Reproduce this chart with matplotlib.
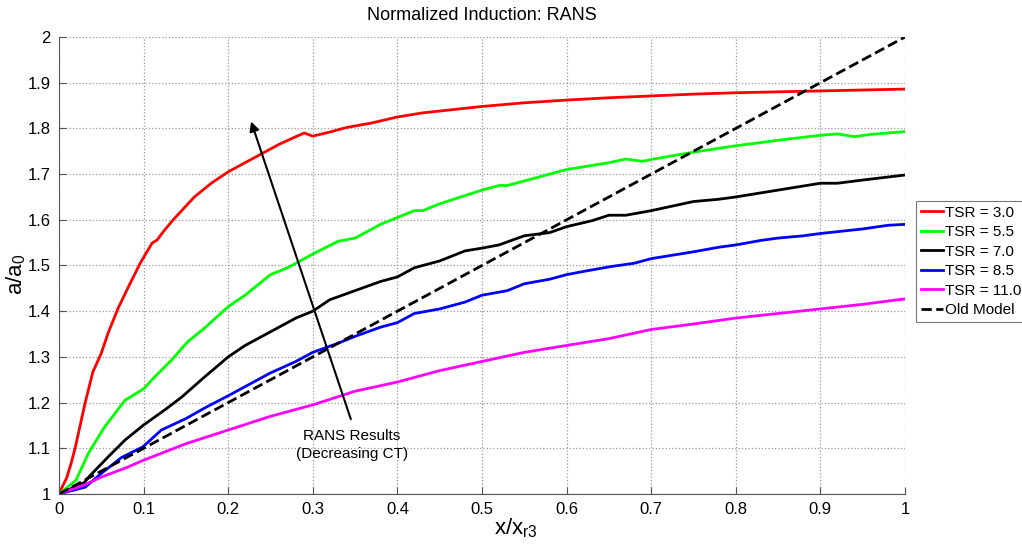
import matplotlib.pyplot as plt
import numpy as np

plt.rcParams['font.family'] = ['Liberation Sans', 'DejaVu Sans']

# TSR = 3.0
x_r = [0, 0.005, 0.009, 0.014, 0.019, 0.025, 0.031, 0.04, 0.05, 0.058, 0.07, 0.082, 0.096, 0.11,
       0.116, 0.125, 0.135, 0.15, 0.16, 0.18, 0.2, 0.22, 0.24, 0.26, 0.28, 0.29, 0.3,
       0.32, 0.34, 0.37, 0.4, 0.43, 0.46, 0.5, 0.55, 0.6, 0.65, 0.7, 0.75, 0.8, 0.85,
       0.9, 0.95, 1.0]
y_r = [1.0, 1.02, 1.035, 1.065, 1.10, 1.15, 1.20, 1.267, 1.308, 1.352, 1.407, 1.453, 1.505, 1.549,
       1.556, 1.578, 1.60, 1.63, 1.65, 1.68, 1.705, 1.725, 1.745, 1.765, 1.782, 1.79, 1.783,
       1.792, 1.802, 1.812, 1.825, 1.834, 1.840, 1.848, 1.856, 1.862, 1.867, 1.871, 1.875, 1.878, 1.880,
       1.882, 1.884, 1.886]

# TSR = 5.5
x_g = [0, 0.02, 0.035, 0.054, 0.078, 0.1, 0.113, 0.133, 0.152, 0.172, 0.2, 0.22, 0.25, 0.27, 0.3, 0.33,
       0.35, 0.38, 0.4, 0.42, 0.43, 0.45, 0.5, 0.52, 0.53, 0.55, 0.6, 0.65, 0.67, 0.69, 0.7,
       0.75, 0.8, 0.85, 0.9, 0.92, 0.94, 0.96, 1.0]
y_g = [1.0, 1.03, 1.09, 1.147, 1.205, 1.23, 1.256, 1.293, 1.333, 1.363, 1.41, 1.435, 1.48, 1.495, 1.525, 1.553,
       1.56, 1.59, 1.605, 1.62, 1.62, 1.635, 1.665, 1.675, 1.675, 1.685, 1.71, 1.725, 1.733, 1.728, 1.732,
       1.748, 1.762, 1.774, 1.785, 1.788, 1.782, 1.787, 1.793]

# TSR = 7.0
x_k = [0, 0.03, 0.035, 0.058, 0.078, 0.1, 0.125, 0.145, 0.172, 0.2, 0.22, 0.25, 0.28, 0.3, 0.32, 0.35,
       0.38, 0.4, 0.42, 0.45, 0.48, 0.5, 0.52, 0.55, 0.58, 0.6, 0.63, 0.65, 0.67, 0.7, 0.75,
       0.78, 0.8, 0.85, 0.9, 0.92, 0.95, 1.0]
y_k = [1.0, 1.025, 1.037, 1.081, 1.118, 1.151, 1.184, 1.212, 1.256, 1.30, 1.325, 1.355, 1.385, 1.40, 1.425, 1.445,
       1.465, 1.475, 1.495, 1.51, 1.532, 1.538, 1.545, 1.565, 1.572, 1.585, 1.598, 1.61, 1.61, 1.62, 1.64,
       1.645, 1.65, 1.665, 1.68, 1.68, 1.687, 1.698]

# TSR = 8.5
x_b = [0, 0.031, 0.05, 0.074, 0.099, 0.121, 0.15, 0.172, 0.2, 0.25, 0.28, 0.3, 0.33, 0.35, 0.38,
       0.4, 0.42, 0.45, 0.48, 0.5, 0.53, 0.55, 0.58, 0.6, 0.62, 0.65, 0.68, 0.7, 0.75, 0.78,
       0.8, 0.83, 0.85, 0.88, 0.9, 0.95, 0.98, 1.0]
y_b = [1.0, 1.015, 1.045, 1.08, 1.103, 1.14, 1.165, 1.188, 1.215, 1.265, 1.29, 1.31, 1.33, 1.345, 1.365,
       1.375, 1.395, 1.405, 1.42, 1.435, 1.445, 1.46, 1.47, 1.48, 1.487, 1.497, 1.505, 1.515, 1.53, 1.54,
       1.545, 1.555, 1.56, 1.565, 1.57, 1.58, 1.588, 1.59]

# TSR = 11.0
x_m = [0, 0.03, 0.05, 0.08, 0.1, 0.15, 0.2, 0.25, 0.3, 0.35, 0.4, 0.45, 0.5, 0.55, 0.6,
       0.65, 0.7, 0.75, 0.8, 0.85, 0.9, 0.95, 1.0]
y_m = [1.0, 1.02, 1.037, 1.058, 1.074, 1.11, 1.14, 1.17, 1.195, 1.225, 1.245, 1.27, 1.29, 1.31, 1.325,
       1.34, 1.36, 1.372, 1.385, 1.395, 1.405, 1.415, 1.427]

# Old model
x_old = [0, 1]
y_old = [1, 2]

series = [
    (x_r, y_r, '#ff0000', 'TSR = 3.0'),
    (x_g, y_g, '#00ff00', 'TSR = 5.5'),
    (x_k, y_k, '#000000', 'TSR = 7.0'),
    (x_b, y_b, '#0000ff', 'TSR = 8.5'),
    (x_m, y_m, '#ff00ff', 'TSR = 11.0'),
]

fig = plt.figure(figsize=(10.22, 5.55), dpi=100)
ax = fig.add_axes([59 / 1022, 61 / 555, 846 / 1022, 457 / 555])

for xs, ys, c, lab in series:
    ax.plot(xs, ys, color=c, linewidth=2, label=lab)
ax.plot(x_old, y_old, color='black', linestyle='--', linewidth=2, label='Old Model')

ax.set_xlim(0, 1)
ax.set_ylim(1, 2)
ax.set_xticks(np.arange(0, 1.01, 0.1))
ax.set_yticks(np.arange(1, 2.01, 0.1))
ax.set_xticklabels(['0', '0.1', '0.2', '0.3', '0.4', '0.5', '0.6', '0.7', '0.8', '0.9', '1'])
ax.set_yticklabels(['1', '1.1', '1.2', '1.3', '1.4', '1.5', '1.6', '1.7', '1.8', '1.9', '2'])
ax.tick_params(direction='in', length=5, labelsize=12, color='#555555', pad=6)
ax.grid(True, linestyle=':', color='#999999', linewidth=0.9)
ax.spines['top'].set_visible(False)
ax.spines['right'].set_visible(False)
ax.spines['left'].set_color('#555555')
ax.spines['bottom'].set_color('#555555')

ax.set_title('Normalized Induction: RANS', fontsize=13, pad=12)
ax.set_xlabel(r'x/x$_{\mathregular{r3}}$', fontsize=16)
ax.xaxis.set_label_coords(0.54, -0.05)
ax.set_ylabel(r'a/a$_{\mathregular{0}}$', fontsize=16)
ax.yaxis.set_label_coords(-0.037, 0.48)

ax.annotate('', xy=(0.226, 1.821), xytext=(0.346, 1.158),
            arrowprops=dict(arrowstyle='-|>', color='black', lw=1.5, mutation_scale=14))
ax.text(0.346, 1.107, 'RANS Results\n(Decreasing CT)', ha='center', va='center',
        fontsize=11, linespacing=1.3)

leg = ax.legend(loc='upper left', bbox_to_anchor=(916 / 1022, (555 - 201) / 555),
                bbox_transform=fig.transFigure, fancybox=False, edgecolor='#777777',
                fontsize=11, handlelength=1.45, handletextpad=0.12, borderpad=0.3,
                labelspacing=0.36, borderaxespad=0, framealpha=1)
leg.get_frame().set_linewidth(0.8)

fig.savefig('out.png', dpi=100)
